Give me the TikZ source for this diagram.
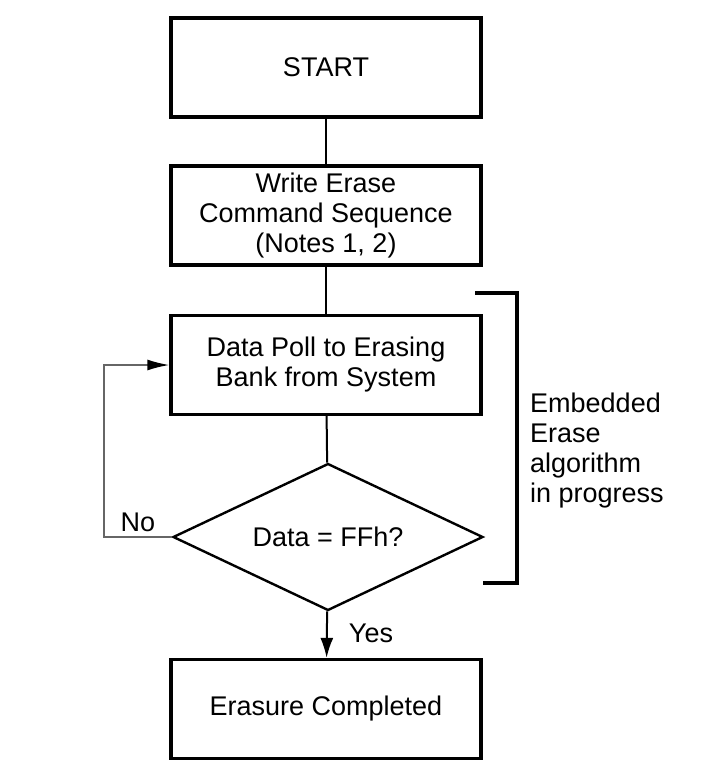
\documentclass[tikz,border=0pt]{standalone}
\usepackage{fontspec}
\setmainfont{Liberation Sans}
\usetikzlibrary{shapes.geometric}
\usetikzlibrary{arrows.meta}
\begin{document}
\begin{tikzpicture}[x=1pt, y=-1pt, font=\fontsize{27}{30}\selectfont,
  stepbox/.style={draw, rectangle, line width=3.2pt, minimum width=310pt, minimum height=99pt, inner sep=0pt, align=center},
  decision/.style={draw, diamond, aspect=2.1, line width=2.4pt, minimum width=310pt, minimum height=147pt, inner sep=0pt},
  flow/.style={line width=2pt},
  tag/.style={inner sep=0pt}]
\useasboundingbox (0,0) rectangle (727,782);
\node[stepbox] (START) at (326,67.5) {START};
\node[stepbox] (WRITE) at (326,215.5) {Write Erase\\Command Sequence\\(Notes 1, 2)};
\node[stepbox] (POLL) at (326,365) {Data Poll to Erasing\\Bank from System};
\node[decision] (CHECK) at (328,537) {Data = FFh?};
\node[stepbox] (DONE) at (326,709) {Erasure Completed};
\node[tag] (NO) at (138,522) {No};
\node[tag] (YES) at (371,633) {Yes};
\node[tag, anchor=north west, align=left] (NOTE) at (530,393) {Embedded\\Erase\\algorithm\\in progress};
\coordinate (LOOPB) at (104,537);
\coordinate (LOOPT) at (104,365);
\draw[flow] (START) -- (WRITE);
\draw[flow] (WRITE) -- (POLL);
\draw[flow] (POLL) -- (CHECK);
\draw[flow, -{Latex[length=20pt, width=13pt]}] (CHECK) -- (DONE);
\draw[line width=1.8pt, black!60, -{Latex[length=22pt, width=11pt, color=black]}] (CHECK.west) -- (LOOPB) -- (LOOPT) -- (POLL.west);
% bracket round the embedded part
\draw[line width=4.5pt] (475,293) -- (517,293) -- (517,583) -- (483,583);
\end{tikzpicture}
\end{document}
